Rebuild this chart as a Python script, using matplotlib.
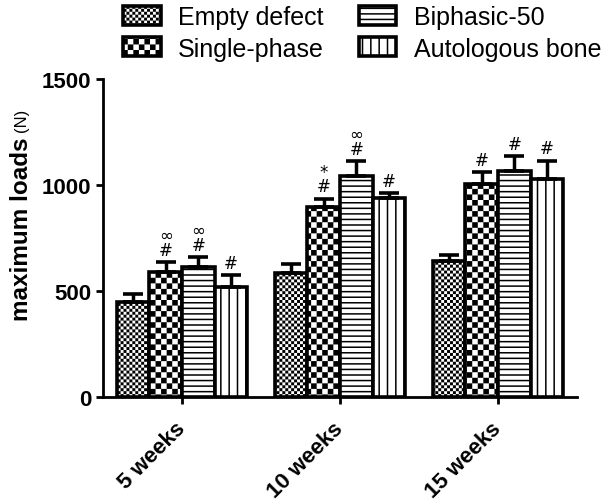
import warnings
import numpy as np
import matplotlib
matplotlib.use('Agg')
import matplotlib.pyplot as plt
import matplotlib.hatch as mhatch
from matplotlib.path import Path

warnings.filterwarnings('ignore')

# Données
groups = ['5 weeks', '10 weeks', '15 weeks']
series = ['Empty defect', 'Single-phase', 'Biphasic-50', 'Autologous bone']
empty = [450, 585, 640]
empty_err = [35, 40, 30]
single = [590, 895, 1005]
single_err = [45, 40, 55]
biphasic = [615, 1042, 1065]
biphasic_err = [45, 70, 70]
autologous = [520, 940, 1030]
autologous_err = [55, 20, 85]
# signes au-dessus des barres (du bas vers le haut)
marks_empty = ['', '', '']
marks_single = ['#\u221e', '#*', '#']
marks_biphasic = ['#\u221e', '#\u221e', '#']
marks_autologous = ['#', '#', '#']


class Damier(mhatch.HatchPatternBase):
    # motif damier : 'c' gros carreaux, 'k' petits carreaux
    def __init__(self, hatch, density):
        self.n = 18 * hatch.count('c') + 34 * hatch.count('k')
        self.num_vertices = self.n * self.n // 2 * 5

    def set_vertices_and_codes(self, vertices, codes):
        s = 1.0 / self.n
        e = 0.0075
        k = 0
        for i in range(self.n):
            for j in range(self.n):
                if (i + j) % 2 == 0:
                    x0, y0 = i * s + e, j * s + e
                    x1, y1 = (i + 1) * s - e, (j + 1) * s - e
                    vertices[k:k + 5] = [[x0, y0], [x1, y0], [x1, y1], [x0, y1], [x0, y0]]
                    codes[k:k + 5] = [Path.MOVETO, Path.LINETO, Path.LINETO, Path.LINETO, Path.CLOSEPOLY]
                    k += 5


mhatch._hatch_types.append(Damier)

plt.rcParams['font.family'] = ['Liberation Sans', 'DejaVu Sans']
plt.rcParams['hatch.linewidth'] = 1.1

fig = plt.figure(figsize=(6.06, 5.02), dpi=100)
ax = fig.add_axes([0.170, 0.207, 0.782, 0.634])

x = np.arange(len(groups))
w = 0.207
data = [(empty, empty_err, 'k', marks_empty),
        (single, single_err, 'c', marks_single),
        (biphasic, biphasic_err, '---', marks_biphasic),
        (autologous, autologous_err, '||', marks_autologous)]

handles = []
for i, (vals, errs, hatch, marks) in enumerate(data):
    pos = x + (i - 1.5) * w
    b = ax.bar(pos, vals, w, color='white', edgecolor='black', linewidth=2.6,
               hatch=hatch, label=series[i], zorder=2)
    handles.append(b)
    ax.errorbar(pos, vals, yerr=[np.zeros(len(vals)), errs], fmt='none', ecolor='black',
                elinewidth=2.5, capsize=7, capthick=2.6, zorder=3)
    for p, v, e, m in zip(pos, vals, errs, marks):
        for k, c in enumerate(m):
            ax.annotate(c, (p, v + e), xytext=(0, 9 + 10.5 * k), textcoords='offset points',
                        ha='center', va='center', fontsize=12, family='DejaVu Sans')

ax.set_xlim(-0.5, 2.5)
ax.set_ylim(0, 1500)
ax.set_yticks([0, 500, 1000, 1500])
ax.set_xticks(x)
ax.set_xticklabels(groups, rotation=45, ha='right', va='center', rotation_mode='anchor',
                   fontweight='bold')
for t in ax.get_yticklabels():
    t.set_fontweight('bold')
ax.tick_params(width=2, length=5, labelsize=16)
ax.tick_params(axis='x', pad=15)
ax.spines[['top', 'right']].set_visible(False)
ax.spines[['left', 'bottom']].set_linewidth(2)

ax.text(-0.171, 0.53, 'maximum loads', transform=ax.transAxes, rotation=90,
        ha='center', va='center', fontsize=17.5, fontweight='bold')
ax.text(-0.171, 0.872, '(N)', transform=ax.transAxes, rotation=90,
        ha='center', va='center', fontsize=12)

ax.legend(handles, series, ncol=2, loc='upper left', bbox_to_anchor=(0.203, 0.988),
          bbox_transform=fig.transFigure, frameon=False, fontsize=18,
          handlelength=1.5, handleheight=0.8, handletextpad=0.7,
          columnspacing=1.4, labelspacing=0.3, borderpad=0, borderaxespad=0)

fig.savefig('out.png', dpi=100)
